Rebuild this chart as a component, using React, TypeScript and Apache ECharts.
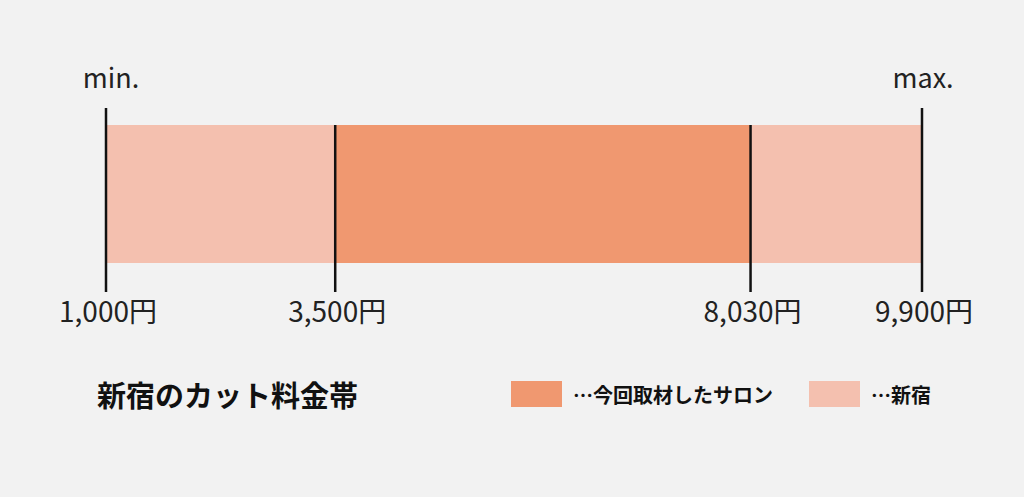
import { useEffect, useRef } from 'react';
import * as echarts from 'echarts';

// 新宿のカット料金帯（円）
const TICKS = [1000, 3500, 8030, 9900];
const AREA_RANGE = [[1000, 9900]];   // 新宿全体
const SALON_RANGE = [[3500, 8030]];  // 今回取材したサロン
const END_LABELS = ['min.', 'max.'];
const AREA_NAME = '…新宿';
const SALON_NAME = '…今回取材したサロン';
const TITLE = '新宿のカット料金帯';

const LIGHT = '#f4c0af';
const DARK = '#f09870';
const FONT = '"Noto Sans CJK JP", "Noto Sans", sans-serif';

function yen(v: number): string {
  return v.toLocaleString('en-US') + '円';
}

export default function App() {
  const ref = useRef<HTMLDivElement>(null);

  useEffect(() => {
    document.body.style.margin = '0';
    if (!ref.current) return;
    const chart = echarts.init(ref.current, undefined, { renderer: 'svg' });

    // 範囲の帯を描く。
    const rangeItem = (color: string) => (_p: any, api: any) => {
      const a = api.coord([api.value(0), 0]);
      const b = api.coord([api.value(1), 0]);
      const h = api.size([0, 1])[1];
      return { type: 'rect', shape: { x: a[0], y: a[1] - h / 2, width: b[0] - a[0], height: h }, style: { fill: color } };
    };

    chart.setOption({
      animation: false,
      backgroundColor: '#f2f2f2',
      textStyle: { fontFamily: FONT },
      grid: { left: 106, right: 102, top: 125, height: 138 },
      xAxis: { type: 'value', min: 1000, max: 9900, show: false },
      yAxis: { type: 'category', data: ['カット'], show: false },
      legend: {
        left: 506,
        top: 376,
        itemWidth: 51,
        itemHeight: 26,
        itemGap: 36,
        icon: 'rect',
        data: [SALON_NAME, AREA_NAME],
        textStyle: { fontSize: 20, fontWeight: 'bold', color: '#111', fontFamily: FONT, padding: [0, 0, 0, 6] },
      },
      graphic: [
        {
          type: 'text',
          left: 97,
          top: 379,
          style: { text: TITLE, fontSize: 29, fontWeight: 'bold', fill: '#111', fontFamily: FONT },
        },
      ],
      series: [
        { name: AREA_NAME, type: 'custom', itemStyle: { color: LIGHT }, renderItem: rangeItem(LIGHT), data: AREA_RANGE, z: 1 },
        { name: SALON_NAME, type: 'custom', itemStyle: { color: DARK }, renderItem: rangeItem(DARK), data: SALON_RANGE, z: 2 },
        {
          name: 'ticks',
          type: 'custom',
          z: 3,
          data: TICKS.map((v) => [v]),
          renderItem: (p: any, api: any) => {
            const v = api.value(0);
            const [x, cy] = api.coord([v, 0]);
            const h = api.size([0, 1])[1];
            const outer = p.dataIndex === 0 || p.dataIndex === TICKS.length - 1;
            const top = cy - h / 2 - (outer ? 17 : 0);
            const bottom = cy + h / 2 + 29;
            const children: any[] = [
              { type: 'line', shape: { x1: x, y1: top, x2: x, y2: bottom }, style: { stroke: '#111', lineWidth: 2.5 } },
              {
                type: 'text',
                style: { x: x + 2, y: bottom + 18, text: yen(v), fontSize: 28, fill: '#222', fontFamily: FONT, align: 'center', verticalAlign: 'middle' },
              },
            ];
            if (outer) {
              children.push({
                type: 'text',
                style: {
                  x: x + (p.dataIndex === 0 ? 5 : 1),
                  y: top - 32,
                  text: END_LABELS[p.dataIndex === 0 ? 0 : 1],
                  fontSize: 27,
                  fill: '#222',
                  fontFamily: FONT,
                  align: 'center',
                  verticalAlign: 'middle',
                },
              });
            }
            return { type: 'group', children };
          },
        },
      ],
    });

    return () => chart.dispose();
  }, []);

  return <div ref={ref} style={{ width: 1024, height: 497 }} />;
}
